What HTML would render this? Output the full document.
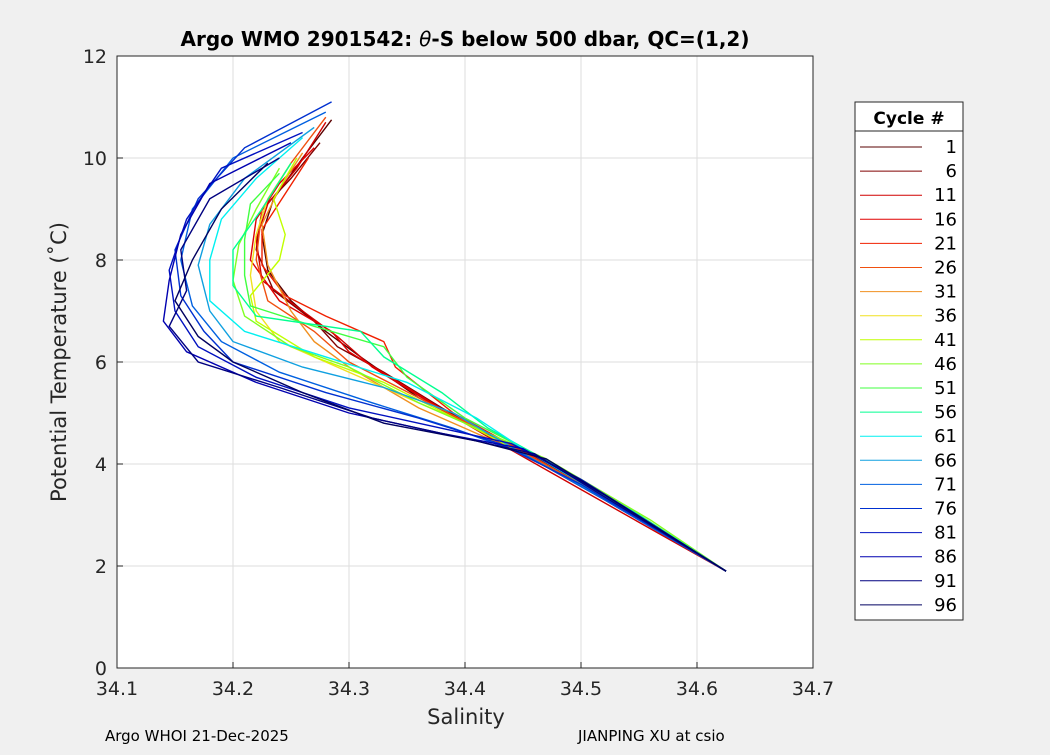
<!DOCTYPE html>
<html><head><meta charset="utf-8"><style>
body{margin:0;background:#f0f0f0;width:1050px;height:750px;overflow:hidden;font-family:"Liberation Sans","DejaVu Sans",sans-serif}
</style></head><body>
<svg id="chart" width="1050" height="750" xmlns="http://www.w3.org/2000/svg" font-family="DejaVu Sans, Liberation Sans, sans-serif">
<rect x="0" y="0" width="1050" height="750" fill="#f0f0f0"/>
<rect x="117" y="56" width="696" height="612" fill="#fff"/>
<g id="grid"></g>
<g id="lines"></g>
<rect x="117" y="56" width="696" height="612" fill="none" stroke="#262626" stroke-width="1"/>
<g id="ticks"></g>
<text x="465" y="46" text-anchor="middle" font-size="20" font-weight="bold" fill="#000">Argo WMO 2901542: <tspan font-style="italic" font-weight="normal">θ</tspan>-S below 500 dbar,  QC=(1,2)</text>
<text x="466" y="724" text-anchor="middle" font-size="21" fill="#262626">Salinity</text>
<text transform="translate(66,362) rotate(-90)" text-anchor="middle" font-size="21" fill="#262626">Potential Temperature (˚C)</text>
<text x="105" y="741" font-size="15" fill="#000">Argo WHOI 21-Dec-2025</text>
<text x="578" y="741" font-size="15" fill="#000">JIANPING XU at csio</text>
<g id="legend">
<rect x="855" y="102" width="108" height="518" fill="#fff" stroke="#262626"/>
<line x1="855" y1="131" x2="963" y2="131" stroke="#262626"/>
<text x="909" y="124" text-anchor="middle" font-size="17" font-weight="bold">Cycle #</text>
</g>
</svg>
<script>
const cycles=[1,6,11,16,21,26,31,36,41,46,51,56,61,66,71,76,81,86,91,96];
const colors=["#5a0000","#800000","#d00000","#e00000","#f02000","#f05010","#f09020","#f0e020","#c0ff00","#80ff20","#40ff40","#00ff90","#00f0f0","#10a0e0","#0060e0","#0030d0","#0010c0","#0000b0","#000080","#000060"];
const xTicks=[34.1,34.2,34.3,34.4,34.5,34.6,34.7];
const yTicks=[0,2,4,6,8,10,12];
const profiles=[
[[34.285,10.75],[34.26,10.0],[34.235,9.2],[34.225,8.5],[34.23,7.8],[34.25,7.2],[34.28,6.6],[34.31,6.1],[34.36,5.3],[34.41,4.7],[34.46,4.15],[34.54,3.1],[34.625,1.9]],
[[34.275,10.3],[34.25,9.6],[34.225,9.0],[34.22,8.2],[34.235,7.4],[34.27,6.8],[34.29,6.3],[34.33,5.8],[34.38,5.1],[34.44,4.3],[34.5,3.6],[34.58,2.5],[34.625,1.9]],
[[34.28,10.7],[34.255,9.8],[34.23,9.1],[34.22,8.4],[34.225,7.6],[34.26,7.0],[34.29,6.5],[34.32,5.9],[34.37,5.2],[34.43,4.4],[34.5,3.5],[34.57,2.6],[34.625,1.9]],
[[34.27,10.2],[34.24,9.5],[34.22,8.8],[34.215,8.0],[34.24,7.2],[34.285,6.6],[34.3,6.2],[34.35,5.5],[34.4,4.8],[34.45,4.2],[34.52,3.3],[34.625,1.9]],
[[34.265,10.0],[34.245,9.3],[34.225,8.6],[34.225,7.9],[34.245,7.3],[34.28,6.9],[34.33,6.4],[34.34,5.9],[34.39,5.0],[34.45,4.25],[34.53,3.2],[34.625,1.9]],
[[34.28,10.8],[34.25,9.9],[34.225,9.0],[34.22,8.0],[34.23,7.2],[34.27,6.6],[34.3,6.0],[34.36,5.3],[34.42,4.6],[34.46,4.1],[34.55,3.0],[34.625,1.9]],
[[34.26,10.1],[34.24,9.4],[34.225,8.7],[34.23,7.9],[34.25,7.0],[34.27,6.4],[34.3,5.9],[34.36,5.1],[34.43,4.4],[34.5,3.6],[34.625,1.9]],
[[34.25,9.9],[34.23,9.2],[34.22,8.5],[34.215,7.7],[34.22,7.0],[34.24,6.4],[34.28,6.0],[34.35,5.3],[34.42,4.6],[34.47,4.1],[34.55,3.0],[34.625,1.9]],
[[34.255,10.0],[34.235,9.2],[34.245,8.5],[34.24,8.0],[34.215,7.3],[34.22,6.8],[34.27,6.1],[34.33,5.6],[34.4,4.8],[34.45,4.2],[34.53,3.2],[34.625,1.9]],
[[34.24,9.8],[34.22,9.0],[34.205,8.3],[34.2,7.6],[34.21,6.9],[34.25,6.3],[34.3,5.9],[34.36,5.2],[34.42,4.6],[34.47,4.1],[34.56,2.9],[34.625,1.9]],
[[34.24,9.7],[34.215,9.1],[34.21,8.4],[34.21,7.7],[34.215,7.1],[34.27,6.7],[34.33,6.3],[34.35,5.7],[34.4,4.9],[34.46,4.2],[34.54,3.1],[34.625,1.9]],
[[34.25,9.9],[34.225,9.0],[34.2,8.2],[34.2,7.5],[34.22,6.9],[34.31,6.6],[34.33,6.1],[34.38,5.4],[34.42,4.7],[34.46,4.2],[34.55,3.0],[34.625,1.9]],
[[34.26,10.4],[34.22,9.6],[34.19,8.8],[34.18,8.0],[34.18,7.2],[34.21,6.6],[34.28,6.1],[34.35,5.6],[34.41,4.9],[34.45,4.3],[34.54,3.1],[34.625,1.9]],
[[34.27,10.6],[34.21,9.6],[34.18,8.7],[34.17,7.9],[34.18,7.0],[34.2,6.4],[34.26,5.9],[34.33,5.5],[34.39,5.0],[34.45,4.2],[34.53,3.2],[34.625,1.9]],
[[34.28,10.9],[34.2,10.0],[34.165,9.0],[34.155,8.0],[34.165,7.1],[34.19,6.4],[34.24,5.8],[34.32,5.2],[34.39,4.7],[34.45,4.2],[34.52,3.3],[34.625,1.9]],
[[34.285,11.1],[34.21,10.2],[34.17,9.2],[34.15,8.2],[34.155,7.3],[34.175,6.6],[34.2,6.0],[34.28,5.4],[34.36,4.9],[34.43,4.4],[34.5,3.6],[34.625,1.9]],
[[34.26,10.5],[34.19,9.8],[34.16,8.8],[34.145,7.8],[34.15,7.0],[34.17,6.3],[34.22,5.7],[34.3,5.1],[34.38,4.7],[34.44,4.4],[34.5,3.7],[34.625,1.9]],
[[34.25,10.3],[34.18,9.5],[34.155,8.5],[34.145,7.6],[34.14,6.8],[34.16,6.2],[34.22,5.6],[34.3,5.0],[34.38,4.6],[34.45,4.3],[34.52,3.4],[34.625,1.9]],
[[34.24,10.0],[34.18,9.2],[34.155,8.2],[34.16,7.4],[34.145,6.7],[34.17,6.0],[34.24,5.5],[34.32,4.9],[34.4,4.5],[34.46,4.2],[34.51,3.5],[34.625,1.9]],
[[34.23,9.9],[34.19,9.0],[34.165,8.0],[34.15,7.2],[34.17,6.5],[34.2,6.0],[34.26,5.4],[34.33,4.8],[34.41,4.45],[34.47,4.1],[34.52,3.4],[34.625,1.9]]
];
const NS="http://www.w3.org/2000/svg";
const X0=117,X1=813,Y0=668,Y1=56;
function xs(s){return X0+(s-34.1)/0.6*(X1-X0);}
function ys(t){return Y0-t/12*(Y0-Y1);}
function mk(tag,attrs,parent){const e=document.createElementNS(NS,tag);for(const k in attrs)e.setAttribute(k,attrs[k]);parent.appendChild(e);return e;}
const grid=document.getElementById('grid'),ticks=document.getElementById('ticks'),lines=document.getElementById('lines'),leg=document.getElementById('legend');
xTicks.forEach(v=>{const x=xs(v);
 const g=mk('line',{x1:x,x2:x,y1:Y1,y2:Y0,stroke:'#dedede'},grid);
 
 
 mk('line',{x1:x,x2:x,y1:Y0,y2:Y0-6,stroke:'#262626'},ticks);
 const t=mk('text',{x:x,y:Y0+27,'text-anchor':'middle','font-size':19,fill:'#262626'},ticks);t.textContent=v.toFixed(1);
 
 
});
yTicks.forEach(v=>{const y=ys(v);
 const g=mk('line',{x1:X0,x2:X1,y1:y,y2:y,stroke:'#dedede'},grid);
 
 
 mk('line',{x1:X0,x2:X0+6,y1:y,y2:y,stroke:'#262626'},ticks);
 const t=mk('text',{x:X0-10,y:y+7,'text-anchor':'end','font-size':19,fill:'#262626'},ticks);t.textContent=v;
 
 
});
profiles.forEach((p,i)=>{
 const pl=mk('polyline',{points:p.map(d=>xs(d[0]).toFixed(1)+','+ys(d[1]).toFixed(1)).join(' '),fill:'none',stroke:colors[i],'stroke-width':1.4},lines);
 
 
 const y=147+i*24.1;
 const ll=mk('line',{x1:860,x2:922,y1:y,y2:y,stroke:colors[i]},leg);
 
 
 const lt=mk('text',{x:957,y:y+6,'text-anchor':'end','font-size':18,fill:'#000'},leg);lt.textContent=cycles[i];
 
 
});
</script>
</body></html>
